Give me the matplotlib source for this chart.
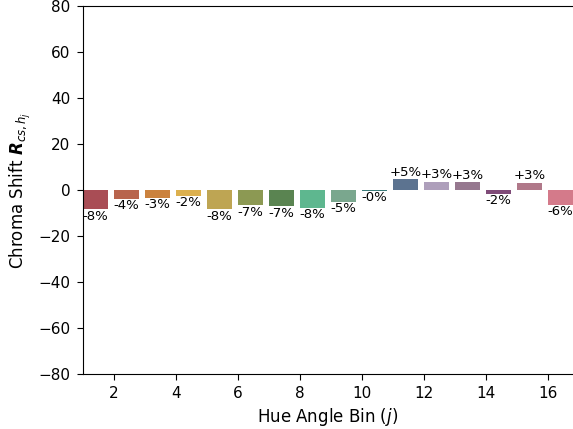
import numpy as np
import matplotlib.pyplot as plt

# hue angle bins and chroma shift values (%)
bins = np.arange(1, 17)
shift = [-8.4, -3.7, -3.3, -2.4, -8.3, -6.6, -7.0, -7.8,
         -5.2, -0.4, 4.7, 3.4, 3.3, -1.6, 3.2, -6.4]
colors = ['#a94d55', '#b8644d', '#cb823e', '#dcb04e', '#bea553', '#8c9953',
          '#5a8451', '#5eb78f', '#7aa78e', '#3b7b79', '#5c7390', '#ae9fbb',
          '#96788f', '#7f4b78', '#b07889', '#d47a8a']
xticks = [2, 4, 6, 8, 10, 12, 14, 16]

fig = plt.figure(figsize=(5.73, 4.29), dpi=100)
ax = fig.add_axes([83 / 573, 55 / 429, 1 - 83 / 573, 368 / 429])

bars = ax.bar(bins, shift, width=0.8, align='edge', color=colors)
for b, v in zip(bars, shift):
    cx = b.get_x() + b.get_width() / 2
    if v >= 0:
        ax.text(cx, v + 0.3, f'{v:+.0f}%', ha='center', va='bottom', fontsize=9.5)
    else:
        ax.text(cx, v - 0.2, f'{v:+.0f}%', ha='center', va='top', fontsize=9.5)

ax.set_xlim(1, 16.8)
ax.set_ylim(-80, 80)
ax.set_yticks(np.arange(-80, 81, 20))
ax.set_xticks(xticks)
ax.tick_params(labelsize=11, length=4, pad=5)
ax.spines['right'].set_visible(False)
ax.set_xlabel('Hue Angle Bin ($j$)', fontsize=12, labelpad=3)
ax.set_ylabel(r'Chroma Shift $\mathbfit{R}_{cs,h_j}$', fontsize=12)

fig.savefig('out.png', dpi=100)
